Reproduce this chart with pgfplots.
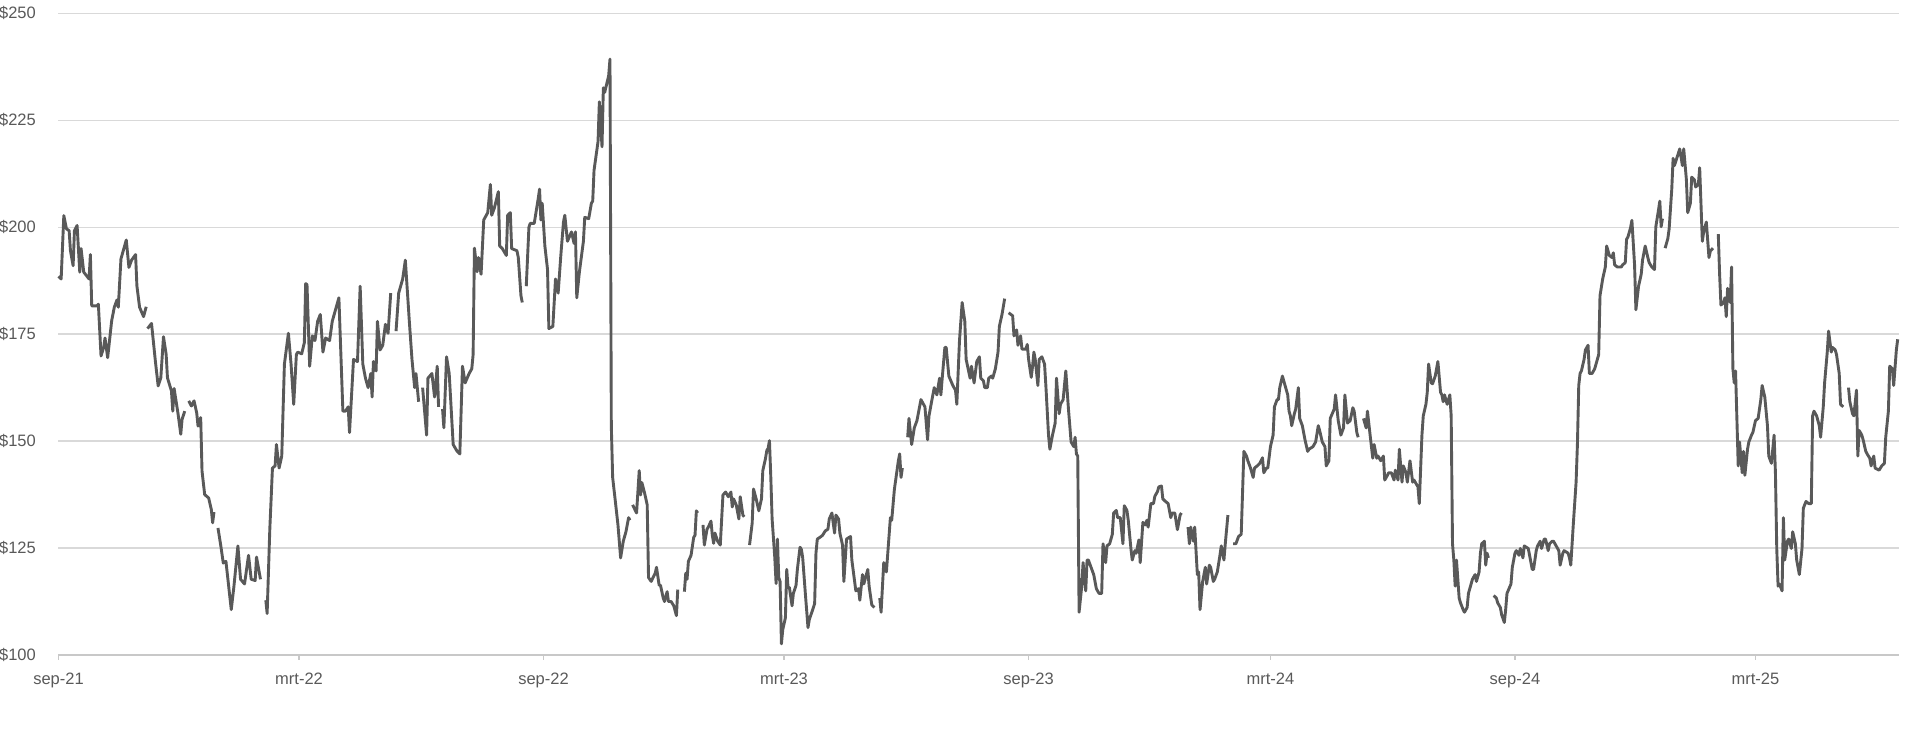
\documentclass[border=0pt]{standalone}
\usepackage{fontspec}
\setmainfont{Liberation Sans}
\usepackage{pgfplots}
\usepackage{pgfplotstable}
\pgfplotsset{compat=1.18}

\definecolor{linegray}{HTML}{595959}
\definecolor{labelgray}{HTML}{595959}
\definecolor{gridgray}{HTML}{D9D9D9}
\definecolor{axisgray}{HTML}{C8C8C8}

% day 0 = 1 sep 2021; nan marks a gap in the series
\pgfplotstableread{
day price
0 188.5
2 187.9
4 202.7
6 199.6
8 199.2
9 194.5
11 191.0
12 199.2
14 200.4
16 189.5
17 195.0
19 189.5
21 188.7
23 187.9
24 193.6
25 181.6
29 181.6
30 182.0
32 169.9
34 171.9
35 174.1
37 169.5
40 178.1
42 181.3
44 183.0
45 181.3
47 192.6
51 197.0
53 190.6
55 192.3
58 193.6
59 186.3
61 181.3
64 179.1
66 181.4
66.5 nan
67 176.3
70 177.5
73 168.4
75 162.9
77 164.8
79 174.4
81 170.3
82 164.8
85 161.7
86 157.0
87 162.3
90 156.3
92 151.6
93 155.1
95 157.0
96.5 nan
98 159.4
100 158.2
102 159.4
104 156.6
105 153.5
107 155.5
108 143.0
110 137.5
113 136.7
115 134.0
116 130.9
117 133.4
118.5 nan
120 129.7
122 125.8
124 121.5
126 121.9
130 110.6
132 116.0
135 125.5
137 117.7
140 116.6
143 123.3
145 117.7
148 117.4
149 122.9
152 117.7
154 nan
156 112.8
157 109.7
159 129.3
161 143.7
163 144.2
164 149.2
166 143.7
168 146.5
170 168.0
173 175.2
175 168.0
177 158.6
179 170.2
180 170.8
183 170.4
185 173.0
186 186.8
187 186.6
189 167.5
191 174.6
193 173.5
195 178.0
197 179.6
199 170.8
201 174.1
204 173.5
206 178.0
211 183.5
214 157.0
216 157.0
218 158.0
219 152.0
222 169.1
225 168.6
227 186.2
229 168.0
231 164.7
233 162.5
235 165.8
236 160.3
237 168.6
239 166.4
240 178.0
242 171.3
244 172.4
246 177.3
248 175.2
250 184.6
252 nan
254 175.7
256 184.6
259 187.9
261 192.3
264 178.0
266 169.1
268 162.5
269 165.8
271 159.2
272.5 nan
274 162.5
277 151.4
278 164.7
281 165.8
283 160.3
285 167.5
286 158.0
287.5 nan
289 157.5
290 153.1
292 169.7
294 165.8
295 160.3
297 149.2
300 147.6
302 147.0
304 167.5
306 163.6
309 165.8
311 166.9
312 170.2
313 195.1
315 189.6
316 192.9
318 189.0
320 201.7
323 203.4
325 210.0
326 202.8
328 204.5
331 208.3
332 195.6
334 195.0
337 193.4
338 202.8
340 203.4
341 195.0
345 194.5
346 192.9
348 184.0
349 182.4
350.5 nan
352 186.2
354 200.0
355 200.9
358 200.9
361 206.7
362 208.9
363 201.7
364 205.6
366 195.6
368 190.1
369 176.3
372 176.8
374 187.9
376 184.6
378 193.4
380 201.2
381 202.8
383 196.7
386 198.9
388 196.2
389 198.9
390 183.5
392 189.6
395 196.7
396 202.3
399 202.0
401 205.6
402 206.1
403 213.3
406 220.0
407 229.3
409 218.8
410 232.6
411 231.5
414 235.4
415 239.3
416 153.6
417 141.5
419 136.0
421 130.4
423 122.7
425 126.6
427 128.8
429 132.1
430 131.5
431 nan
432 135.1
435 133.2
437 143.1
438 137.4
439 140.3
441 137.9
443 135.1
444 118.1
446 117.2
449 119.1
450 120.5
452 116.3
453 116.3
455 113.4
456 112.5
458 114.8
459 112.5
461 112.5
463 111.5
465 109.2
466 115.3
468.5 nan
471 114.8
472 119.1
473 117.7
474 121.9
476 123.3
478 127.5
479 128.0
480 133.7
481 133.2
483 nan
485 130.4
486 125.7
488 129.4
489 129.9
491 131.3
492 128.0
493 126.1
494 128.5
496 126.6
498 125.7
500 137.4
502 138.1
504 137.0
506 138.1
507 134.6
508 136.5
510 135.1
512 131.8
513 137.0
515 132.7
516 132.3
518 nan
520 125.7
522 130.8
523 138.8
525 136.5
527 133.7
529 136.5
530 143.1
532 145.9
533 147.8
534 148.3
535 150.1
536 141.7
537 131.8
539 122.8
540 116.7
541 127.1
542 118.1
543 117.2
544 102.6
545 105.9
547 108.7
548 120.0
549 115.8
550 115.8
552 111.5
553 114.4
555 116.3
556 120.0
558 125.2
559 124.7
560 122.8
562 114.4
564 106.4
565 108.3
567 110.1
569 112.0
570 123.8
571 127.1
573 127.5
575 128.0
576 128.5
577 129.0
579 129.4
580 131.8
582 133.2
583 130.8
584 128.5
585 132.7
587 131.8
588 128.5
590 125.7
591 117.2
593 127.1
596 127.7
597 122.2
600 115.0
602 115.5
603 112.8
605 118.8
606 116.6
609 120.0
610 116.1
612 111.7
614 111.1
616 nan
618 113.3
619 110.0
621 121.6
623 119.4
626 132.1
627 131.5
629 138.7
632 145.4
633 147.0
634 141.5
635 143.7
637 nan
639 150.9
640 155.3
642 149.2
644 153.1
646 154.8
649 159.7
652 158.0
654 150.3
655 155.8
657 159.2
659 162.5
661 160.8
663 164.7
664 160.8
665 164.7
667 171.9
668 171.9
670 165.2
673 163.0
675 161.9
676 158.6
678 173.5
680 182.4
682 178.0
683 169.1
686 164.7
687 167.5
689 163.6
691 168.6
693 169.7
694 164.7
696 164.1
697 162.5
699 162.5
700 164.7
702 165.2
703 164.7
705 166.9
707 170.8
708 176.8
710 179.6
712 183.3
713.5 nan
715 180.0
718 179.3
719 174.6
721 176.0
722 172.4
724 174.6
725 171.5
728 171.5
729 172.6
730 169.1
732 164.9
733 167.5
734 170.8
735 169.1
737 163.0
738 169.1
740 169.7
742 168.0
743 163.0
745 151.4
746 148.1
748 151.4
750 154.2
751 164.7
753 156.4
754 158.6
756 159.7
758 166.4
760 157.5
762 149.8
764 148.7
765 150.9
766 147.0
767 146.5
768 110.0
770 116.1
771 121.6
773 115.0
774 122.2
775 122.2
777 120.5
779 118.8
781 115.5
783 114.4
785 114.4
786 126.0
788 121.6
789 125.5
791 126.0
793 128.2
794 133.2
796 133.8
797 132.1
799 132.1
801 126.0
802 134.9
804 133.8
805 131.5
807 124.9
808 122.2
810 124.4
811 123.8
813 126.9
814 121.6
816 131.0
818 130.4
819 131.5
820 129.9
822 135.4
824 135.4
825 137.1
827 138.2
828 139.3
830 139.5
831 136.5
833 135.9
835 135.4
837 132.1
838 133.2
840 133.2
842 129.3
844 132.7
845 133.2
847 nan
850 129.9
851 126.0
852 129.9
854 126.6
855 129.9
857 118.8
858 119.4
859 110.6
861 117.2
863 120.5
864 116.6
866 121.0
867 120.5
869 117.2
870 117.7
872 119.4
874 123.3
875 125.5
877 122.2
878 126.0
880 132.7
882 nan
884 126.0
886 126.0
888 127.7
890 128.2
892 147.6
894 146.5
895 145.4
897 143.7
899 141.5
900 143.7
902 144.2
904 144.8
906 146.1
907 142.6
909 143.7
910 143.7
912 148.7
914 151.4
915 158.0
917 159.7
918 159.7
919 162.5
921 165.2
923 163.0
925 160.8
926 157.0
927 155.9
928 153.6
930 156.4
931 157.5
933 162.5
934 155.3
936 153.6
938 150.3
940 147.6
941 148.1
944 148.7
946 149.8
948 153.6
949 152.5
951 149.8
953 148.7
954 144.2
956 145.4
957 155.3
960 157.5
961 160.8
963 154.8
965 151.4
967 153.1
968 160.8
970 154.2
972 154.8
974 157.8
975 157.0
977 152.0
978 150.9
980 nan
982 155.3
984 153.1
985 157.0
987 151.4
989 146.0
990 149.2
992 146.0
993 146.5
995 145.4
997 146.5
998 140.9
1000 142.0
1001 142.6
1003 142.6
1005 140.9
1006 143.2
1008 140.9
1009 148.1
1011 140.4
1012 144.2
1014 142.6
1015 140.4
1017 145.4
1019 140.4
1020 140.9
1023 139.3
1024 135.4
1026 151.4
1027 155.9
1029 158.6
1030 161.4
1031 168.0
1033 163.6
1034 163.4
1036 165.2
1038 168.6
1040 161.4
1041 160.8
1042 159.2
1043 160.8
1045 158.6
1047 160.8
1048 155.9
1049 126.0
1050 122.2
1051 116.1
1052 122.2
1054 113.3
1055 112.2
1057 110.6
1058 110.0
1060 111.1
1061 114.4
1063 116.6
1064 117.7
1066 118.8
1067 117.2
1069 119.4
1070 123.8
1071 126.0
1073 126.6
1074 121.0
1075 123.8
1076 122.7
1078 nan
1080 113.9
1082 113.3
1083 112.2
1085 111.1
1086 109.4
1088 107.6
1089 110.6
1090 114.4
1093 116.6
1094 120.5
1096 123.8
1097 124.4
1099 123.3
1100 124.9
1102 122.7
1103 125.5
1106 124.9
1107 123.3
1109 120.0
1110 120.0
1112 124.4
1113 125.5
1115 126.6
1116 124.9
1118 127.1
1119 127.1
1121 124.4
1122 126.0
1124 126.6
1125 126.6
1127 125.5
1129 124.4
1130 121.0
1132 123.8
1133 124.4
1136 123.8
1137 122.7
1138 121.0
1140 131.0
1142 140.4
1143 149.2
1144 163.0
1145 165.8
1146 166.4
1148 169.1
1149 171.3
1151 172.4
1152 165.8
1154 165.8
1156 166.9
1158 169.1
1159 170.2
1160 184.0
1162 187.9
1164 190.7
1165 195.6
1167 193.4
1169 192.9
1170 194.0
1171 191.2
1173 190.7
1176 190.7
1177 191.2
1179 191.7
1180 197.2
1181 197.7
1183 199.9
1184 201.6
1186 191.2
1187 180.7
1189 186.2
1191 189.0
1192 192.3
1194 195.6
1196 192.9
1197 191.7
1199 190.7
1201 190.1
1202 200.1
1204 204.0
1205 206.1
1206 200.1
1207 202.0
1208 nan
1209 195.1
1211 197.3
1212 199.5
1214 208.9
1215 216.1
1216 214.4
1220 218.3
1222 214.4
1223 218.3
1225 211.1
1226 203.4
1228 205.6
1229 211.7
1231 211.1
1232 209.4
1234 210.0
1235 213.9
1237 196.7
1238 198.9
1240 201.2
1242 192.9
1243 194.4
1245 195.1
1247 nan
1249 198.4
1250 189.0
1251 181.8
1253 182.4
1254 183.5
1255 179.1
1256 185.7
1258 182.4
1259 190.7
1260 166.9
1261 163.6
1262 166.4
1264 144.2
1265 149.8
1267 142.6
1268 147.6
1269 142.0
1271 148.1
1272 149.8
1274 151.4
1275 152.0
1277 154.8
1279 155.3
1281 159.7
1282 163.0
1284 160.3
1286 153.6
1287 146.5
1289 144.8
1291 151.4
1292 142.6
1293 124.9
1294 116.1
1295 116.6
1297 115.0
1298 132.1
1299 122.2
1301 126.6
1302 127.1
1304 124.9
1305 128.8
1307 126.0
1308 122.2
1310 118.8
1312 124.9
1313 134.3
1315 135.9
1317 135.4
1319 135.4
1320 155.9
1321 157.0
1323 155.9
1325 153.6
1326 150.9
1328 158.0
1329 163.6
1331 170.8
1332 175.7
1334 170.8
1335 171.9
1337 171.3
1338 170.2
1340 165.8
1341 158.6
1343 158.0
1345 nan
1347 162.5
1348 159.2
1350 156.4
1351 155.9
1353 161.9
1354 146.5
1355 152.5
1357 151.4
1358 150.3
1360 147.6
1361 147.0
1363 146.0
1364 144.2
1366 146.5
1367 143.7
1370 143.2
1372 144.2
1374 144.8
1375 150.9
1377 157.0
1378 167.5
1380 166.9
1381 163.0
1383 171.3
1384 173.8
}\prices

\begin{document}
\begin{tikzpicture}
\path[use as bounding box] (-58.5bp,-86bp) rectangle (1861.5bp,655bp);
\begin{axis}[
    at={(0,0)}, anchor=south west,
    scale only axis,
    width=1840.5bp, height=641.7bp,
    xmin=0, xmax=1385,
    ymin=100, ymax=250,
    axis x line*=bottom,
    axis y line*=left,
    x axis line style={draw=axisgray, line width=1.3bp, -},
    y axis line style={draw=none},
    xtick={0,181,365,546,730,912,1096,1277},
    xticklabels={sep-21,mrt-22,sep-22,mrt-23,sep-23,mrt-24,sep-24,mrt-25},
    ytick={100,125,150,175,200,225,250},
    yticklabels={\$100,\$125,\$150,\$175,\$200,\$225,\$250},
    tick align=outside,
    major tick length=5bp,
    xtick style={draw=axisgray, line width=1.3bp},
    ytick style={draw=none},
    ymajorgrids,
    grid style={draw=gridgray, line width=1.3bp},
    tick label style={font=\fontsize{16.5bp}{20bp}\selectfont, text=labelgray},
    yticklabel style={anchor=east, inner sep=0pt, xshift=-17.5bp},
    xticklabel style={anchor=north, inner sep=0pt, yshift=-12.5bp},
    unbounded coords=jump,
    clip=false,
]
\addplot[draw=linegray, line width=2.9bp, line join=round, mark=none] table[x=day, y=price] {\prices};
\end{axis}
\end{tikzpicture}
\end{document}
